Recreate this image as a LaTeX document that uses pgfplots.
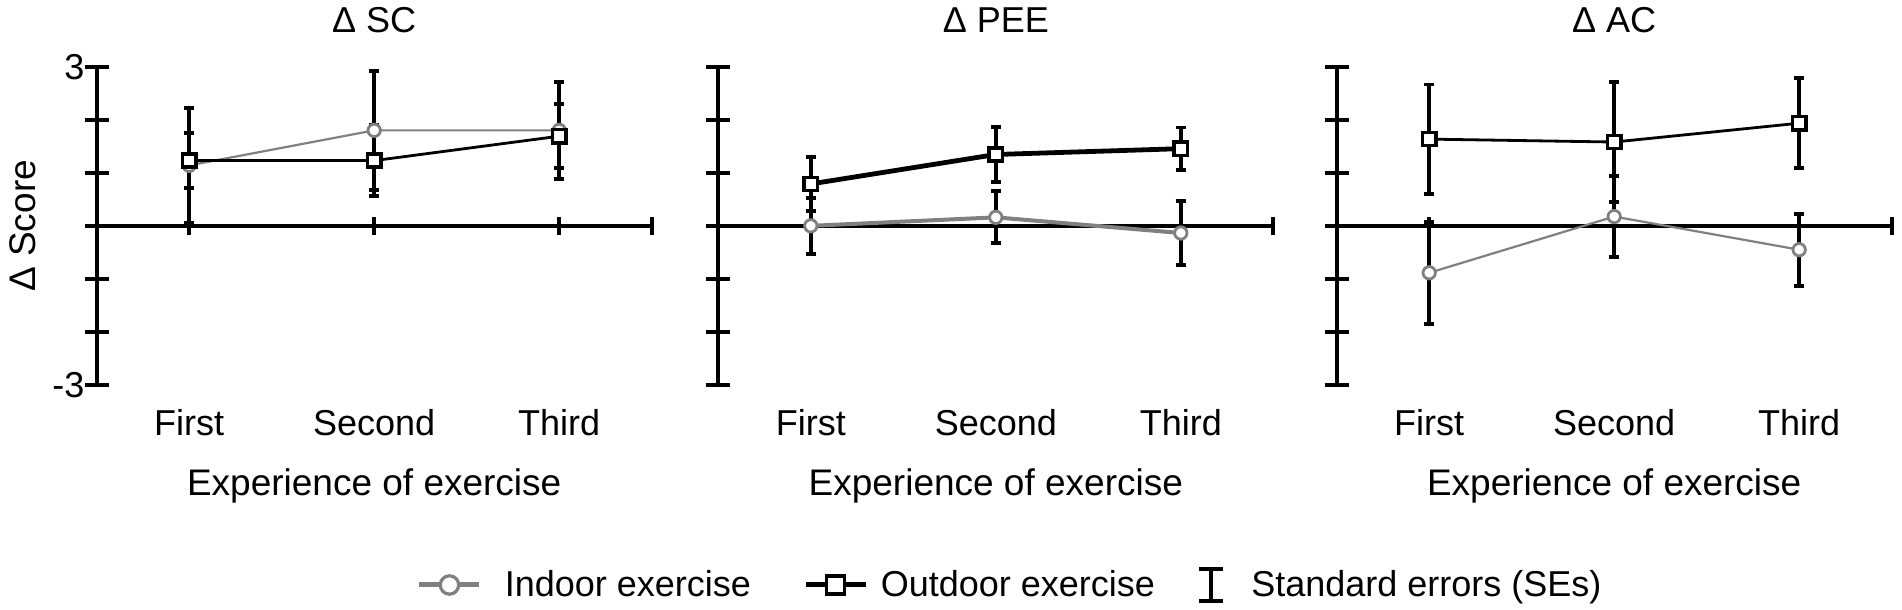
\documentclass[border=0pt]{standalone}
\usepackage{fontspec}
\setmainfont{Liberation Sans}
\usepackage{pgfplots}
\pgfplotsset{compat=1.18}
\definecolor{ingray}{RGB}{128,128,128}
\newcommand{\fs}{\fontsize{18}{21}\selectfont}
\newcommand{\fl}{\fontsize{18.5}{22}\selectfont}

\pgfplotstableread{
x y e
1 1.14 1.08
2 1.80 1.12
3 1.80 0.91
}\scin
\pgfplotstableread{
x y e
1 1.23 0.52
2 1.23 0.67
3 1.69 0.60
}\scout
\pgfplotstableread{
x y e
1 0.00 0.53
2 0.16 0.49
3 -0.135 0.60
}\peein
\pgfplotstableread{
x y e
1 0.79 0.51
2 1.345 0.515
3 1.455 0.40
}\peeout
\pgfplotstableread{
x y e
1 -0.885 0.965
2 0.175 0.765
3 -0.45 0.68
}\acin
\pgfplotstableread{
x y e
1 1.635 1.03
2 1.58 1.13
3 1.935 0.845
}\acout

\pgfplotsset{
 panel/.style={
  scale only axis, width=277.5pt, height=159.15pt,
  xmin=0.5, xmax=3.5, ymin=-3, ymax=3,
  axis x line*=middle, axis y line*=left,
  axis line style={line width=1.9pt, black},
  xtick={1,2,3,3.5}, xticklabels={First,Second,Third,},
  ytick={-3,-2,-1,0,1,2,3},
  yticklabels={},
  tick align=center,
  major tick length=12pt,
  xtick style={/pgfplots/major tick length=9pt, line width=1.9pt, black},
  ytick style={line width=1.9pt, black},
  tick label style={font=\fs},
  xticklabel style={anchor=base, yshift=-98.7pt},
  every axis title/.style={at={(axis description cs:0.5,1)}, anchor=base, yshift=17.3pt, font=\fs},
  xlabel={Experience of exercise},
  every axis x label/.style={at={(axis description cs:0.5,0)}, anchor=base, yshift=-55.5pt, font=\fl},
  clip=false,
  legend style={draw=none, fill=none, inner sep=0pt, outer sep=0pt, nodes={inner sep=0pt, outer sep=0pt}, font=\fs, anchor=west},
  legend cell align=left,
 },
 indoor/.style={ingray, line width=1.1pt, mark=*, mark size=3.1pt,
  mark options={fill=white, draw=ingray, line width=1.4pt},
  error bars/y dir=both, error bars/y explicit,
  error bars/error bar style={black, line width=1.9pt},
  error bars/error mark options={rotate=90, black, mark size=2.6pt, line width=1.9pt}},
 outdoor/.style={black, line width=1.4pt, mark=square*, mark size=3.3pt,
  mark options={fill=white, draw=black, line width=1.75pt},
  error bars/y dir=both, error bars/y explicit,
  error bars/error bar style={black, line width=1.9pt},
  error bars/error mark options={rotate=90, black, mark size=2.6pt, line width=1.9pt}},
}

\begin{document}
\begin{tikzpicture}
\path[use as bounding box] (0,0) rectangle (951pt,305pt);

% Panel 1
\begin{axis}[panel, at={(48.35pt,112.5pt)}, anchor=south west,
  title={Δ SC},
  yticklabels={-3,,,,,,3},
  yticklabel style={anchor=east, inner sep=0pt, xshift=0pt},
  ylabel={Δ Score},
  every axis y label/.style={at={(axis description cs:-0.1094,0.5)}, rotate=90, anchor=base, font=\fl},
  legend style={at={(axis description cs:0.5771,-0.6283)}},
  legend image code/.code={
    \draw[ingray, line width=2.5pt] (0pt,0pt) -- (30pt,0pt);
    \draw[ingray, line width=1.6pt, fill=white] (15pt,0pt) circle (4.6pt);
    \path (42.5pt,0pt);
  }]
\addlegendimage{}
\addlegendentry{Indoor exercise}
\addplot[indoor, forget plot] table[x=x, y=y, y error=e] {\scin};
\addplot[outdoor, forget plot] table[x=x, y=y, y error=e] {\scout};
\end{axis}

% Panel 2
\begin{axis}[panel, at={(359.15pt,112.5pt)}, anchor=south west,
  title={Δ PEE},
  legend style={at={(axis description cs:0.1526,-0.6283)}},
  legend image code/.code={
    \draw[black, line width=2.5pt] (0pt,0pt) -- (30pt,0pt);
    \draw[black, line width=1.8pt, fill=white] (10.5pt,-4.5pt) rectangle (19.5pt,4.5pt);
    \path (37.5pt,0pt);
  }]
\addlegendimage{}
\addlegendentry{Outdoor exercise}
\addplot[indoor, line width=2pt, forget plot] table[x=x, y=y, y error=e] {\peein};
\addplot[outdoor, line width=2.4pt, forget plot] table[x=x, y=y, y error=e] {\peeout};
\end{axis}

% Panel 3
\begin{axis}[panel, at={(668.35pt,112.5pt)}, anchor=south west,
  title={Δ AC},
  legend style={at={(axis description cs:-0.2517,-0.6283)}},
  legend image code/.code={
    \draw[black, line width=1.9pt] (7pt,-8pt) -- (7pt,8pt);
    \draw[black, line width=1.9pt] (1pt,-8pt) -- (13pt,-8pt);
    \draw[black, line width=1.9pt] (1pt,8pt) -- (13pt,8pt);
    \path (27pt,0pt);
  }]
\addlegendimage{}
\addlegendentry{Standard errors (SEs)}
\addplot[indoor, forget plot] table[x=x, y=y, y error=e] {\acin};
\addplot[outdoor, forget plot] table[x=x, y=y, y error=e] {\acout};
\end{axis}
\end{tikzpicture}
\end{document}
